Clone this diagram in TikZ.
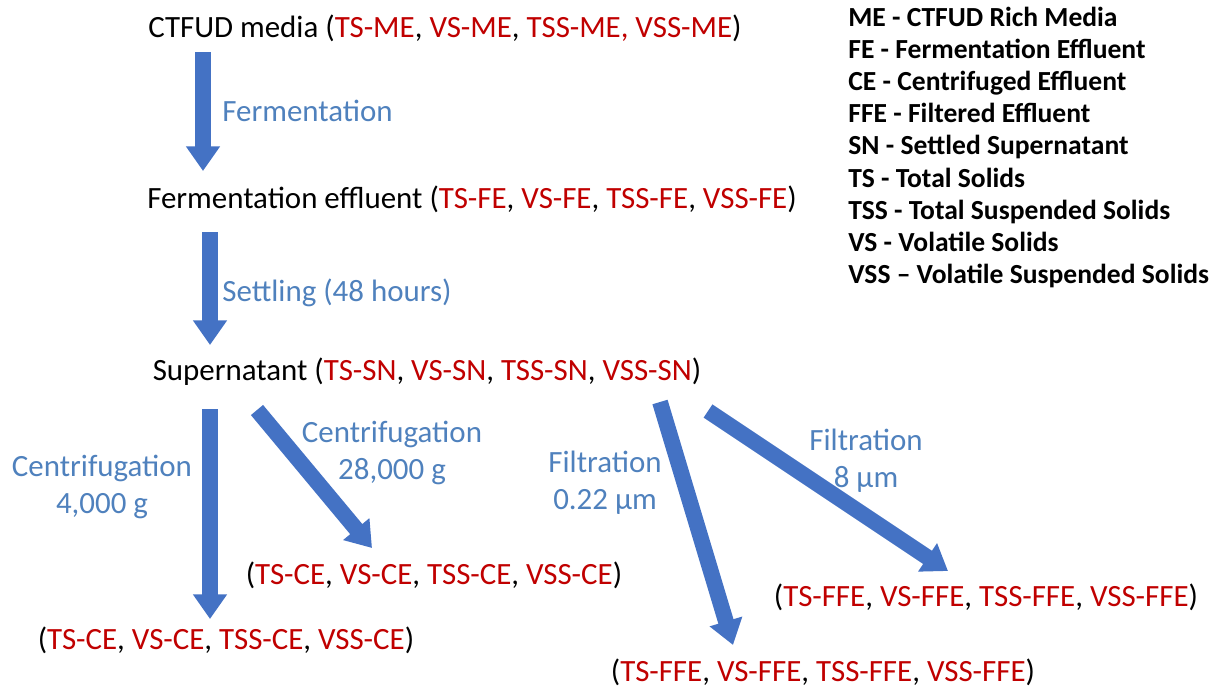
\documentclass[tikz,border=0pt]{standalone}
\usepackage{fontspec}
\setmainfont{Carlito}
\usetikzlibrary{arrows.meta}

\definecolor{flowblue}{HTML}{4472C4}
\definecolor{labelblue}{HTML}{4F81BD}
\definecolor{valred}{HTML}{C00000}
\newcommand{\rd}[1]{\textcolor{valred}{#1}}

\begin{document}
\begin{tikzpicture}[x=0.02cm, y=-0.02cm, font=\fontsize{17.6}{21}\selectfont,
  stage/.style={inner sep=0pt},
  proc/.style={inner sep=0pt, text=labelblue, align=center},
  flow/.style={draw=flowblue, line width=9pt, -{Triangle[width=18.5pt, length=14pt]}},
  legend/.style={inner sep=0pt, anchor=base west, font=\fontsize{15.7}{18}\selectfont\bfseries}]

\useasboundingbox (0,0) rectangle (1209,690);

% stages
\node[stage] (media) at (445,28) {CTFUD media (\rd{TS-ME}, \rd{VS-ME}, \rd{TSS-ME, VSS-ME})};
\node[stage] (ferm) at (472,199) {Fermentation effluent (\rd{TS-FE}, \rd{VS-FE}, \rd{TSS-FE}, \rd{VSS-FE})};
\node[stage] (super) at (427,372) {Supernatant (\rd{TS-SN}, \rd{VS-SN}, \rd{TSS-SN}, \rd{VSS-SN})};
\node[stage] (ce-hi) at (434,575) {(\rd{TS-CE}, \rd{VS-CE}, \rd{TSS-CE}, \rd{VSS-CE})};
\node[stage] (ce-lo) at (226,640) {(\rd{TS-CE}, \rd{VS-CE}, \rd{TSS-CE}, \rd{VSS-CE})};
\node[stage] (ffe-hi) at (986,597) {(\rd{TS-FFE}, \rd{VS-FFE}, \rd{TSS-FFE}, \rd{VSS-FFE})};
\node[stage] (ffe-lo) at (823,672) {(\rd{TS-FFE}, \rd{VS-FFE}, \rd{TSS-FFE}, \rd{VSS-FFE})};

% process labels
\node[proc, anchor=west] (p-ferm) at (222,111) {Fermentation};
\node[proc, anchor=west] (p-settle) at (222,293) {Settling (48 hours)};
\node[proc] (p-c4) at (102,487) {Centrifugation\\4,000 g};
\node[proc] (p-c28) at (392,453) {Centrifugation\\28,000 g};
\node[proc] (p-f022) at (605,483) {Filtration\\0.22 µm};
\node[proc] (p-f8) at (866,461) {Filtration\\8 µm};

% arrow ends
\coordinate (a1-s) at (203,52);  \coordinate (a1-e) at (203,171);
\coordinate (a2-s) at (210,232); \coordinate (a2-e) at (210,345);
\coordinate (a3-s) at (210,409); \coordinate (a3-e) at (210,619);
\coordinate (a4-s) at (257,410); \coordinate (a4-e) at (372,548);
\coordinate (a5-s) at (660,402); \coordinate (a5-e) at (733,645);
\coordinate (a6-s) at (708,411); \coordinate (a6-e) at (948,571);

% flows
\draw[flow] (a1-s) -- (a1-e);
\draw[flow] (a2-s) -- (a2-e);
\draw[flow] (a3-s) -- (a3-e);
\draw[flow] (a4-s) -- (a4-e);
\draw[flow] (a5-s) -- (a5-e);
\draw[flow] (a6-s) -- (a6-e);

% legend
\foreach \txt [count=\i] in {ME - CTFUD Rich Media, FE - Fermentation Effluent,
  CE - Centrifuged Effluent, FFE - Filtered Effluent, SN - Settled Supernatant,
  TS - Total Solids, TSS - Total Suspended Solids, VS - Volatile Solids,
  VSS – Volatile Suspended Solids}
  \node[legend] (leg-\i) at (848,{26+32.2*(\i-1)}) {\txt};

\end{tikzpicture}
\end{document}
